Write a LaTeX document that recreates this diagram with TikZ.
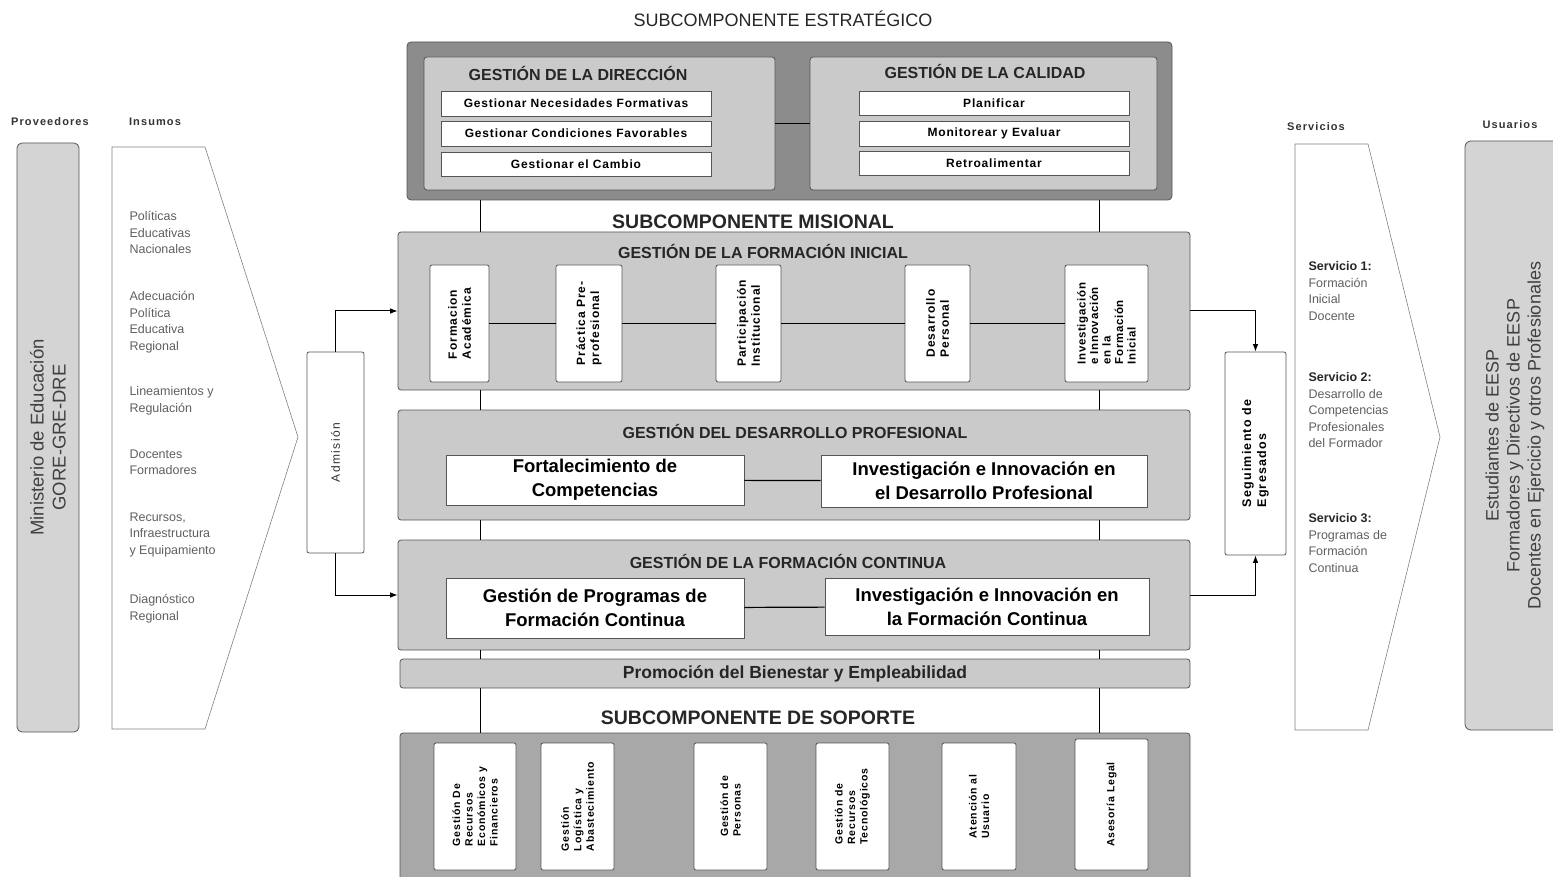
\documentclass[tikz,border=0pt]{standalone}
\usepackage{fontspec}
\setmainfont{Liberation Sans}
\usepackage{tikz}
\usetikzlibrary{fit}
\usetikzlibrary{arrows.meta}
\definecolor{darkpanel}{RGB}{140,140,140}
\definecolor{lightpanel}{RGB}{202,202,202}
\definecolor{supportgray}{RGB}{168,168,168}
\definecolor{sidegray}{RGB}{212,212,212}
\definecolor{linegray}{RGB}{85,85,85}
\definecolor{textgray}{RGB}{95,95,95}
\newcommand{\fsl}[2]{\fontsize{#1}{#2}\selectfont}
\newcommand{\lsp}[1]{\addfontfeature{LetterSpace=#1}}

\begin{document}
\begin{tikzpicture}[x=1pt, y=-1pt,
	panel/.style={draw=linegray, fill=lightpanel, rounded corners=3pt, inner sep=0pt, line width=.8pt},
	wbox/.style={draw=linegray, fill=white, rounded corners=2pt, inner sep=0pt, line width=.8pt},
	head/.style={font=\fsl{16}{18}\bfseries, text=black!85},
	subtitle/.style={font=\fsl{19.5}{22}\bfseries, text=black!85},
	small/.style={font=\fsl{12}{13}\bfseries\lsp{7}, align=center},
	big/.style={font=\fsl{18.5}{24}\bfseries, align=center},
	vert/.style={font=\fsl{12}{14}\bfseries\lsp{8}, align=left, rotate=90},
	supvert/.style={font=\fsl{10.5}{12.5}\bfseries\lsp{8}, align=left, rotate=90},
	sidetxt/.style={font=\fsl{12.5}{16.5}, text=textgray, align=left, anchor=north west},
	sidehead/.style={font=\fsl{11}{13}\bfseries\lsp{10}, text=black!80}]
	\useasboundingbox (0,0) rectangle (1553,877);

	% Proveedores / Insumos
	\node[sidehead] (hProv) at (50,122) {Proveedores};
	\node[draw=linegray, fill=sidegray, rounded corners=5pt, inner sep=0pt, line width=.8pt, fit={(17,143) (79,732)},
		label={[rotate=90, align=center, font=\fsl{18.5}{22}, text=black!75]center:Ministerio de Educación\\GORE-GRE-DRE}] (prov) {};
	\node[sidehead] (hIns) at (155,122) {Insumos};
	\draw[draw=gray, line width=.6pt] (112,147) -- (205,147) -- (298,437) -- (205,729) -- (112,729) -- cycle;
	\node[sidetxt] (i1) at (126,208) {Políticas\\Educativas\\Nacionales};
	\node[sidetxt] (i2) at (126,288) {Adecuación\\Política\\Educativa\\Regional};
	\node[sidetxt] (i3) at (126,383) {Lineamientos y\\Regulación};
	\node[sidetxt] (i4) at (126,446) {Docentes\\Formadores};
	\node[sidetxt] (i5) at (126,509) {Recursos,\\Infraestructura\\y Equipamiento};
	\node[sidetxt] (i6) at (126,591) {Diagnóstico\\Regional};

	% Subcomponente estrategico
	\node[font=\fsl{18}{20}, text=black!85] (tEst) at (783,19) {SUBCOMPONENTE ESTRATÉGICO};
	\node[draw=linegray, fill=darkpanel, rounded corners=4pt, inner sep=0pt, line width=.8pt, fit={(407,42) (1172,200)}] (est) {};
	\node[panel, fit={(424,57) (775,190)}] (dir) {};
	\node[head] (hDir) at (578,73) {GESTIÓN DE LA DIRECCIÓN};
	\node[wbox, rounded corners=0pt, fit={(441,91) (711,116)}, label={[small]center:Gestionar Necesidades Formativas}] (gnf) {};
	\node[wbox, rounded corners=0pt, fit={(441,121) (711,146)}, label={[small]center:Gestionar Condiciones Favorables}] (gcf) {};
	\node[wbox, rounded corners=0pt, fit={(441,152) (711,176)}, label={[small]center:Gestionar el Cambio}] (gec) {};
	\node[panel, fit={(810,57) (1157,190)}] (cal) {};
	\node[head] (hCal) at (985,71) {GESTIÓN DE LA CALIDAD};
	\node[wbox, rounded corners=0pt, fit={(859,91) (1129,115)}, label={[small]center:Planificar}] (pla) {};
	\node[wbox, rounded corners=0pt, fit={(859,121) (1129,146)}, label={[small]center:Monitorear y Evaluar}] (mye) {};
	\node[wbox, rounded corners=0pt, fit={(859,151) (1129,175)}, label={[small]center:Retroalimentar}] (ret) {};
	\draw[line width=1.2pt] (dir) -- (cal);

	% Subcomponente misional
	\node[subtitle] (tMis) at (753,222) {SUBCOMPONENTE MISIONAL};
	\node[panel, fit={(398,232) (1190,390)}] (fi) {};
	\node[head] (hFi) at (763,251) {GESTIÓN DE LA FORMACIÓN INICIAL};
	\node[wbox, fit={(430,265) (489,382)}, label={[vert]center:Formacion\\Académica}] (fa) {};
	\node[wbox, fit={(556,265) (622,382)}, label={[vert]center:Práctica Pre-\\profesional}] (pp) {};
	\node[wbox, fit={(716,265) (781,382)}, label={[vert]center:Participación\\Institucional}] (pin) {};
	\node[wbox, fit={(905,265) (970,382)}, label={[vert]center:Desarrollo\\Personal}] (dpe) {};
	\node[wbox, fit={(1065,265) (1148,382)}, label={[vert, font=\fsl{11.5}{12.5}\bfseries\lsp{6}]center:Investigación\\e Innovación\\en la\\Formación\\Inicial}] (iif) {};
	\draw[line width=1.2pt] (fa) -- (pp) -- (pin) -- (dpe) -- (iif);

	\node[panel, fit={(398,410) (1190,520)}] (dp) {};
	\node[head] (hDp) at (795,431) {GESTIÓN DEL DESARROLLO PROFESIONAL};
	\node[wbox, rounded corners=0pt, fit={(446,455) (744,505)}, label={[big]center:Fortalecimiento de\\Competencias}] (fort) {};
	\node[wbox, rounded corners=0pt, fit={(821,455) (1147,507)}, label={[big]center:Investigación e Innovación en\\el Desarrollo Profesional}] (iidp) {};
	\draw[line width=1.2pt] (fort) -- (iidp);

	\node[panel, fit={(398,540) (1190,650)}] (fc) {};
	\node[head] (hFc) at (788,561) {GESTIÓN DE LA FORMACIÓN CONTINUA};
	\node[wbox, rounded corners=0pt, fit={(446,578) (744,638)}, label={[big]center:Gestión de Programas de\\Formación Continua}] (gpfc) {};
	\node[wbox, rounded corners=0pt, fit={(825,578) (1149,635)}, label={[big]center:Investigación e Innovación en\\la Formación Continua}] (iifc) {};
	\draw[line width=1.2pt] (gpfc) -- (iifc);

	\node[panel, fit={(400,659) (1190,688)}, label={[font=\fsl{17.5}{19}\bfseries, text=black!85]center:Promoción del Bienestar y Empleabilidad}] (pb) {};

	% Admision y seguimiento
	\node[wbox, fit={(307,352) (364,553)}, label={[rotate=90, font=\fsl{12}{14}\lsp{12}, text=black!80]center:Admisión}] (adm) {};
	\node[wbox, fit={(1225,352) (1286,555)}, label={[rotate=90, align=left, font=\fsl{12.5}{15}\bfseries\lsp{10}]center:Seguimiento de\\Egresados}] (seg) {};
	\draw[-Latex, line width=1pt] (adm.north) |- (fi.west);
	\draw[-Latex, line width=1pt] (adm.south) |- (fc.west);
	\draw[-Latex, line width=1pt] (fi.east) -| (seg.north);
	\draw[-Latex, line width=1pt] (fc.east) -| (seg.south);

	% Subcomponente de soporte
	\node[subtitle] (tSop) at (758,718) {SUBCOMPONENTE DE SOPORTE};
	\node[draw=linegray, fill=supportgray, rounded corners=3pt, inner sep=0pt, line width=.8pt, fit={(400,733) (1190,880)}] (sop) {};
	\node[wbox, fit={(434,743) (516,870)}, label={[supvert]center:Gestión De\\Recursos\\Económicos y\\Financieros}] (gref) {};
	\node[wbox, fit={(541,743) (614,870)}, label={[supvert]center:Gestión\\Logística y\\Abastecimiento}] (gla) {};
	\node[wbox, fit={(694,743) (767,870)}, label={[supvert]center:Gestión de\\Personas}] (gpe) {};
	\node[wbox, fit={(816,743) (889,870)}, label={[supvert]center:Gestión de\\Recursos\\Tecnológicos}] (grt) {};
	\node[wbox, fit={(942,743) (1016,870)}, label={[supvert]center:Atención al\\Usuario}] (atu) {};
	\node[wbox, fit={(1075,739) (1148,870)}, label={[supvert]center:Asesoría Legal}] (asl) {};

	% Lineas verticales
	\coordinate (lx) at (480,0);
	\coordinate (rx) at (1099,0);
	\foreach \a/\b in {est/fi, fi/dp, dp/fc, fc/pb, pb/sop} {
		\draw[line width=1pt] (\a.south -| lx) -- (\b.north -| lx);
		\draw[line width=1pt] (\a.south -| rx) -- (\b.north -| rx);
	}

	% Servicios / Usuarios
	\node[sidehead] (hSer) at (1316,127) {Servicios};
	\draw[draw=gray, line width=.6pt] (1295,144) -- (1368,144) -- (1440,437) -- (1368,730) -- (1295,730) -- cycle;
	\node[sidetxt] (s1) at (1305,258) {\textbf{\textcolor{black!85}{Servicio 1:}}\\Formación\\Inicial\\Docente};
	\node[sidetxt] (s2) at (1305,369) {\textbf{\textcolor{black!85}{Servicio 2:}}\\Desarrollo de\\Competencias\\Profesionales\\del Formador};
	\node[sidetxt] (s3) at (1305,510) {\textbf{\textcolor{black!85}{Servicio 3:}}\\Programas de\\Formación\\Continua};
	\node[sidehead] (hUsu) at (1510,125) {Usuarios};
	\node[draw=linegray, fill=sidegray, rounded corners=6pt, inner sep=0pt, line width=.8pt, fit={(1465,141) (1565,730)},
		label={[rotate=90, align=center, font=\fsl{18}{21}, text=black!75]center:Estudiantes de EESP\\Formadores y Directivos de EESP\\Docentes en Ejercicio y otros Profesionales}] (usu) {};
\end{tikzpicture}
\end{document}
